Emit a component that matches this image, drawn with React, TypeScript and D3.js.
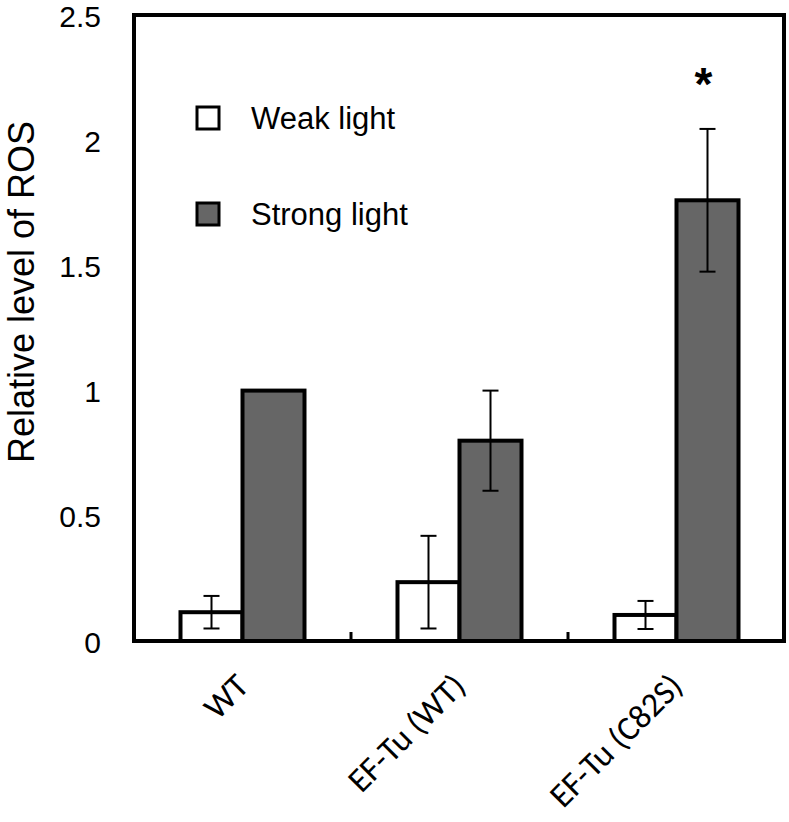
import React from "react";
import * as d3 from "d3";

const categories = ["WT", "EF-Tu (WT)", "EF-Tu (C82S)"];
const seriesNames = ["Weak light", "Strong light"];
const weakValues = [0.115, 0.235, 0.104];
const weakErrors = [0.065, 0.185, 0.056];
const strongValues = [1.0, 0.8, 1.76];
const strongErrors = [0, 0.2, 0.285];
const yTicks = [0, 0.5, 1, 1.5, 2, 2.5];
const significance = ["", "", "*"];

const W = 789;
const H = 822;
const frame = { left: 134, right: 785, top: 15, bottom: 641 };
const seriesFill = ["#ffffff", "#666666"];
const sansFont = "'Liberation Sans', Arial, Helvetica, sans-serif";
const labelFont = "Carlito, Calibri, Lato, 'Open Sans', sans-serif";

export default function App() {
  const x = d3.scaleBand<string>().domain(categories).range([frame.left, frame.right]).padding(0);
  const xs = d3.scaleBand<string>().domain(seriesNames).range([0, x.bandwidth()]).paddingInner(0).paddingOuter(0.75);
  const y = d3.scaleLinear().domain([0, 2.5]).range([frame.bottom, frame.top]);

  const seriesData = [
    { name: seriesNames[0], values: weakValues, errors: weakErrors, fill: seriesFill[0] },
    { name: seriesNames[1], values: strongValues, errors: strongErrors, fill: seriesFill[1] },
  ];

  const capHalf = 8;

  return (
    <svg width={W} height={H} style={{ position: "absolute", left: 0, top: 0, background: "#fff" }}>
      {/* bars */}
      {seriesData.map((s) =>
        categories.map((c, i) => {
          const bx = (x(c) as number) + (xs(s.name) as number);
          const by = y(s.values[i]);
          return (
            <rect
              key={s.name + c}
              x={bx}
              y={by}
              width={xs.bandwidth()}
              height={y(0) - by}
              fill={s.fill}
              stroke="#000"
              strokeWidth={4}
            />
          );
        })
      )}
      {/* error bars */}
      {seriesData.map((s) =>
        categories.map((c, i) => {
          if (!s.errors[i]) return null;
          const cx = (x(c) as number) + (xs(s.name) as number) + xs.bandwidth() / 2;
          const yt = y(s.values[i] + s.errors[i]);
          const yb = y(s.values[i] - s.errors[i]);
          return (
            <g key={"e" + s.name + c} stroke="#000" strokeWidth={2}>
              <line x1={cx} x2={cx} y1={yt} y2={yb} />
              <line x1={cx - capHalf} x2={cx + capHalf} y1={yt} y2={yt} />
              <line x1={cx - capHalf} x2={cx + capHalf} y1={yb} y2={yb} />
            </g>
          );
        })
      )}
      {/* frame */}
      <rect
        x={frame.left}
        y={frame.top}
        width={frame.right - frame.left - 1}
        height={frame.bottom - frame.top}
        fill="none"
        stroke="#000"
        strokeWidth={4}
      />
      {/* category boundary ticks */}
      {categories.slice(1).map((c) => (
        <line key={"t" + c} x1={x(c)} x2={x(c)} y1={frame.bottom} y2={frame.bottom - 9} stroke="#000" strokeWidth={3} />
      ))}
      {/* y tick labels */}
      {yTicks.map((t) => (
        <text
          key={"y" + t}
          x={101}
          y={y(t) + 1}
          textAnchor="end"
          dominantBaseline="central"
          fontFamily={sansFont}
          fontSize={30}
          fill="#000"
        >
          {t}
        </text>
      ))}
      {/* y axis title */}
      <text
        transform={`translate(21, 292) rotate(-90)`}
        textAnchor="middle"
        dominantBaseline="central"
        fontFamily={sansFont}
        fontSize={36}
        fill="#000"
      >
        Relative level of ROS
      </text>
      {/* x labels */}
      {categories.map((c) => {
        const cx = (x(c) as number) + x.bandwidth() / 2;
        return (
          <text
            key={"x" + c}
            transform={`translate(${cx + 8}, 688) rotate(-45)`}
            textAnchor="end"
            fontFamily={labelFont}
            fontSize={34}
            fill="#000"
          >
            {c}
          </text>
        );
      })}
      {/* significance */}
      {categories.map((c, i) => {
        if (!significance[i]) return null;
        const cx = (x(c) as number) + (xs(seriesNames[1]) as number) + xs.bandwidth() / 2;
        return (
          <text
            key={"s" + c}
            x={cx - 4}
            y={100}
            textAnchor="middle"
            fontFamily={sansFont}
            fontWeight="bold"
            fontSize={46}
            fill="#000"
          >
            {significance[i]}
          </text>
        );
      })}
      {/* legend */}
      {seriesData.map((s, i) => (
        <g key={"l" + s.name} transform={`translate(197, ${107 + i * 96})`}>
          <rect x={0} y={0} width={22} height={22} fill={s.fill} stroke="#000" strokeWidth={3} />
          <text x={54} y={11} dominantBaseline="central" fontFamily={sansFont} fontSize={31} fill="#000">
            {s.name}
          </text>
        </g>
      ))}
    </svg>
  );
}
